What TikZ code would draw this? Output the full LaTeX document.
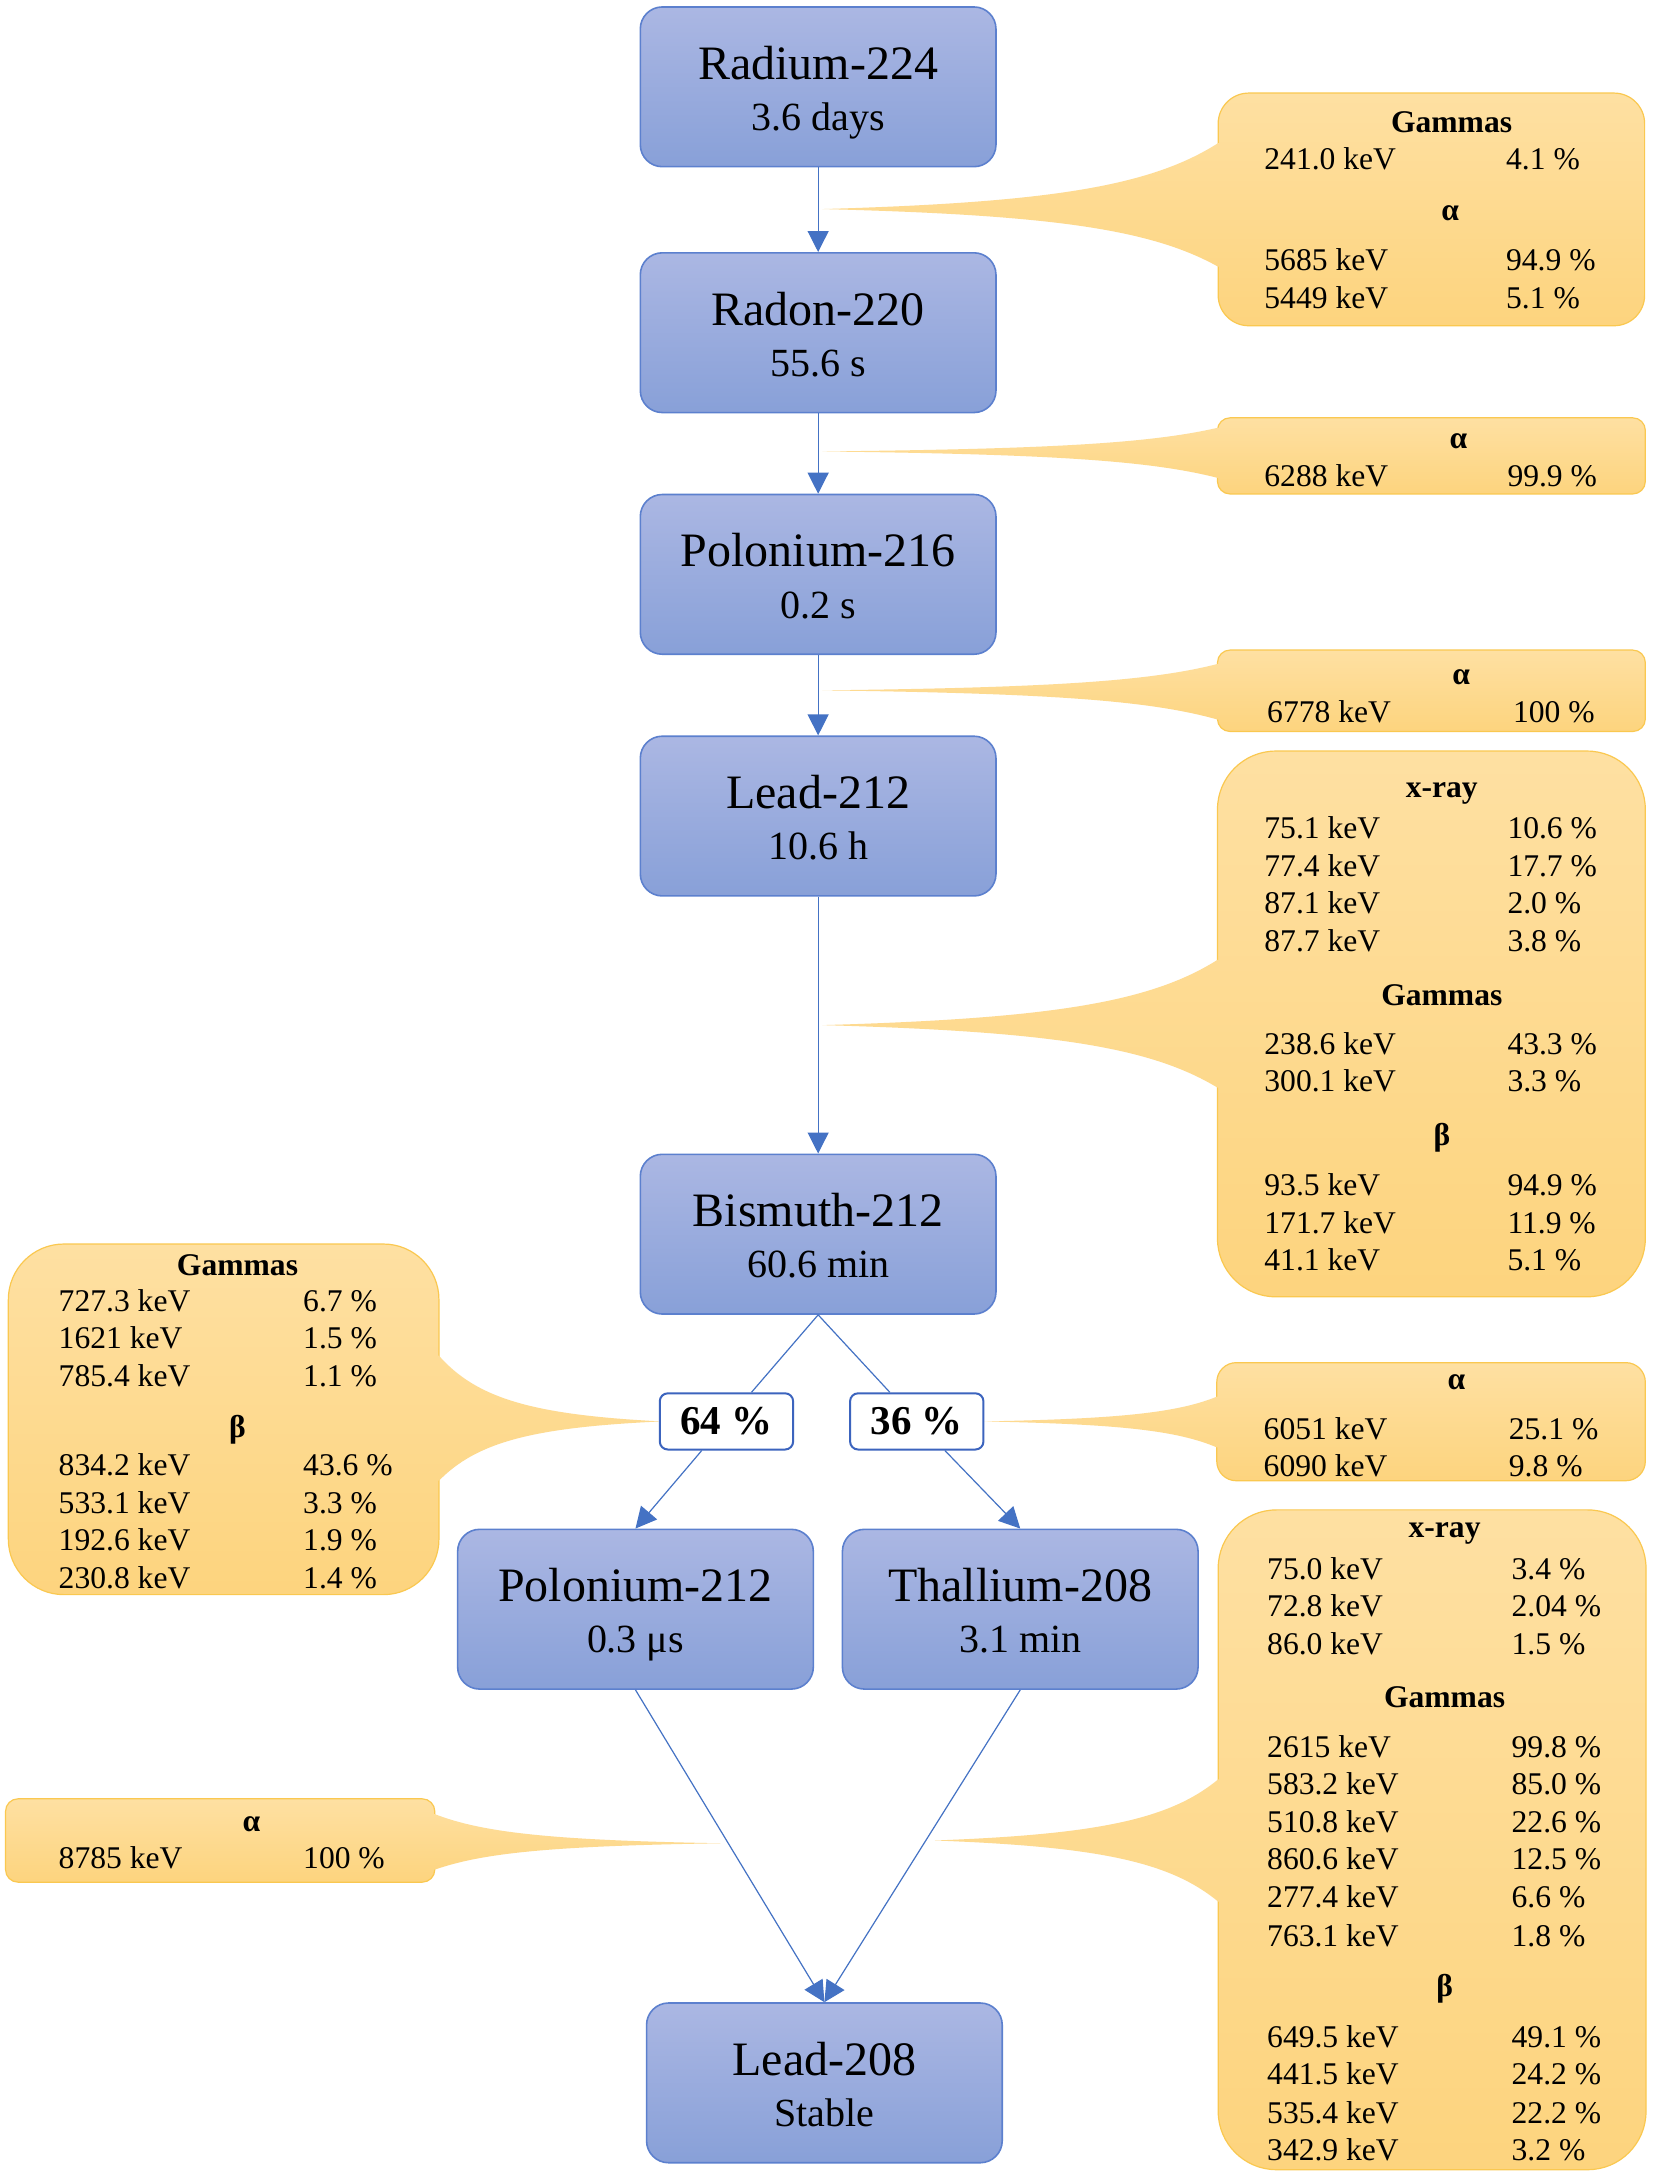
\documentclass[tikz,border=0pt]{standalone}
\usepackage{fontspec}
\setmainfont{Liberation Serif}
\usetikzlibrary{arrows.meta}
\definecolor{bluetop}{RGB}{171,183,227}
\definecolor{bluebot}{RGB}{136,160,216}
\definecolor{boxedge}{RGB}{92,128,206}
\definecolor{linkblue}{RGB}{68,114,196}
\definecolor{pctedge}{RGB}{60,100,190}
\definecolor{caltop}{RGB}{254,224,162}
\definecolor{calbot}{RGB}{253,212,126}
\definecolor{caledge}{RGB}{250,200,80}
\def\unitpx{0.6948pt}
\tikzset{
  nucbox/.style={rectangle, draw=boxedge, line width=0.8pt, top color=bluetop, bottom color=bluebot,
    rounded corners=11pt, minimum width=177.9pt, minimum height=79.9pt, inner sep=0pt},
  nuctitle/.style={inner sep=0pt, font=\fontsize{24}{28}\selectfont},
  nucsub/.style={inner sep=0pt, font=\fontsize{20}{24}\selectfont},
  calnode/.style={rectangle, draw=caledge, line width=0.6pt, top color=caltop, bottom color=calbot, inner sep=0pt},
  dat/.style={anchor=base west, inner sep=0pt, font=\fontsize{15.8}{19}\selectfont},
  hd/.style={inner sep=0pt, font=\fontsize{15.8}{19}\selectfont\bfseries},
  pct/.style={rectangle, draw=pctedge, line width=1pt, fill=white, rounded corners=4pt,
    minimum width=66.7pt, minimum height=28.1pt, inner sep=0pt, font=\fontsize{20.5}{24}\selectfont\bfseries},
  link/.style={draw=linkblue, line width=0.6pt},
  arr/.style={link, -{Triangle[length=10.5pt,width=10.5pt]}},
}
% name, xcenter, ytop, title, subtitle
\newcommand\nuclide[5]{%
  \node[nucbox] (#1) at (#2,{#3+57.5}) {};
  \node[nuctitle, anchor=base] (#1t) at (#2,{#3+52}) {#4};
  \node[nucsub, anchor=base] (#1s) at (#2,{#3+89}) {#5};}
% name, x1, y1, x2, y2, radius
\newcommand\calbox[6]{%
  \node[calnode, minimum width={(#4-#2)*\unitpx}, minimum height={(#5-#3)*\unitpx},
    rounded corners={#6*\unitpx}] (#1) at ({(#2+#4)/2},{(#3+#5)/2}) {};}
% tipx, tipy, edgex, basetop, basebottom, insidex, boxtop, boxbottom
\newcommand\calwedge[8]{%
  \begin{scope}
    \clip (#1,#2) .. controls ({#1+0.58*(#3-#1)},{#2-0.1*(#2-#4)}) and ({#3-0.17*(#3-#1)},{#2-0.35*(#2-#4)}) .. (#3,#4)
      -- (#6,#4) -- (#6,#5) -- (#3,#5)
      .. controls ({#3-0.17*(#3-#1)},{#2+0.35*(#5-#2)}) and ({#1+0.58*(#3-#1)},{#2+0.1*(#5-#2)}) .. (#1,#2) -- cycle;
    \shade[top color=caltop, bottom color=calbot] (#1,#7) rectangle (#6,#8);
  \end{scope}}
\newcommand\datrow[6]{%
  \node[dat] (#1l) at (#2,{#4+7}) {#5};
  \node[dat] (#1r) at (#3,{#4+7}) {#6};}
\newcommand\hdr[4]{\node[hd] (#1) at (#2,#3) {#4};}

\begin{document}
\begin{tikzpicture}[x=0.6948pt, y=-0.6948pt]
\useasboundingbox (0,0) rectangle (1191,1568);
\fill[white] (0,0) rectangle (1191,1568);

% ---------- callouts ----------
\calbox{c1}{877}{67}{1184}{234.5}{22}
\calwedge{592}{150.5}{877}{103}{192}{884}{67}{234.5}
\hdr{c1h1}{1045}{88}{Gammas}
\datrow{c1a}{910}{1084}{114.7}{241.0 keV}{4.1 \%}
\hdr{c1h2}{1044}{153.5}{α}
\datrow{c1b}{910}{1084}{188}{5685 keV}{94.9 \%}
\datrow{c1c}{910}{1084}{215}{5449 keV}{5.1 \%}

\calbox{c2}{876.5}{300.8}{1184.5}{355.6}{9}
\calwedge{592}{325}{876.5}{308}{344}{883}{300.8}{355.6}
\hdr{c2h1}{1050}{317.5}{α}
\datrow{c2a}{910}{1085}{343.5}{6288 keV}{99.9 \%}

\calbox{c3}{876.5}{468}{1184.5}{526.6}{9}
\calwedge{592}{497}{876.5}{478}{518}{883}{468}{526.6}
\hdr{c3h1}{1052}{487.5}{α}
\datrow{c3a}{912}{1089}{513}{6778 keV}{100 \%}

\calbox{c4}{876.5}{540.7}{1184.5}{933.6}{42}
\calwedge{592}{738}{876.5}{691}{783}{883}{540.7}{933.6}
\hdr{c4h1}{1038}{571}{x-ray}
\datrow{c4a}{910}{1085}{596.6}{75.1 keV}{10.6 \%}
\datrow{c4b}{910}{1085}{624}{77.4 keV}{17.7 \%}
\datrow{c4c}{910}{1085}{651}{87.1 keV}{2.0 \%}
\datrow{c4d}{910}{1085}{678}{87.7 keV}{3.8 \%}
\hdr{c4h2}{1038}{716.5}{Gammas}
\datrow{c4e}{910}{1085}{752}{238.6 keV}{43.3 \%}
\datrow{c4f}{910}{1085}{779}{300.1 keV}{3.3 \%}
\hdr{c4h3}{1038}{819}{β}
\datrow{c4g}{910}{1085}{853.7}{93.5 keV}{94.9 \%}
\datrow{c4h}{910}{1085}{881}{171.7 keV}{11.9 \%}
\datrow{c4i}{910}{1085}{907.6}{41.1 keV}{5.1 \%}

\calbox{c5}{6}{895.6}{316}{1148}{40}
\calwedge{476}{1023.3}{316}{976}{1066}{309}{895.6}{1148}
\hdr{c5h1}{171}{910.6}{Gammas}
\datrow{c5a}{42}{218}{937}{727.3 keV}{6.7 \%}
\datrow{c5b}{42}{218}{964}{1621 keV}{1.5 \%}
\datrow{c5c}{42}{218}{991}{785.4 keV}{1.1 \%}
\hdr{c5h2}{171}{1029.5}{β}
\datrow{c5d}{42}{218}{1055.5}{834.2 keV}{43.6 \%}
\datrow{c5e}{42}{218}{1082.5}{533.1 keV}{3.3 \%}
\datrow{c5f}{42}{218}{1109.5}{192.6 keV}{1.9 \%}
\datrow{c5g}{42}{218}{1136.5}{230.8 keV}{1.4 \%}

\calbox{c6}{876}{981}{1184.5}{1066}{14}
\calwedge{708}{1023.3}{876}{1005.5}{1042}{883}{981}{1066}
\hdr{c6h1}{1048.5}{994.8}{α}
\datrow{c6a}{909.5}{1086}{1029.5}{6051 keV}{25.1 \%}
\datrow{c6b}{909.5}{1086}{1056}{6090 keV}{9.8 \%}

\calbox{c7}{877}{1087}{1185}{1562}{42}
\calwedge{673}{1325}{877}{1281}{1369}{884}{1087}{1562}
\hdr{c7h1}{1040}{1104}{x-ray}
\datrow{c7a}{912}{1088}{1130}{75.0 keV}{3.4 \%}
\datrow{c7b}{912}{1088}{1157}{72.8 keV}{2.04 \%}
\datrow{c7c}{912}{1088}{1184}{86.0 keV}{1.5 \%}
\hdr{c7h2}{1040}{1222}{Gammas}
\datrow{c7d}{912}{1088}{1258}{2615 keV}{99.8 \%}
\datrow{c7e}{912}{1088}{1285}{583.2 keV}{85.0 \%}
\datrow{c7f}{912}{1088}{1312}{510.8 keV}{22.6 \%}
\datrow{c7g}{912}{1088}{1339}{860.6 keV}{12.5 \%}
\datrow{c7h}{912}{1088}{1366}{277.4 keV}{6.6 \%}
\datrow{c7i}{912}{1088}{1394}{763.1 keV}{1.8 \%}
\hdr{c7h3}{1040}{1431.5}{β}
\datrow{c7j}{912}{1088}{1467}{649.5 keV}{49.1 \%}
\datrow{c7k}{912}{1088}{1494}{441.5 keV}{24.2 \%}
\datrow{c7l}{912}{1088}{1521.5}{535.4 keV}{22.2 \%}
\datrow{c7m}{912}{1088}{1548.5}{342.9 keV}{3.2 \%}

\calbox{c8}{4}{1295}{313}{1355}{9}
\calwedge{519}{1327}{313}{1306}{1346}{306}{1295}{1355}
\hdr{c8h1}{181}{1313}{α}
\datrow{c8a}{42}{218}{1338.5}{8785 keV}{100 \%}

% ---------- nuclides ----------
\nuclide{ra}{589}{5}{Radium-224}{3.6 days}
\nuclide{rn}{589}{182}{Radon-220}{55.6 s}
\nuclide{poa}{589}{356}{Polonium-216}{0.2 s}
\nuclide{pba}{589}{530}{Lead-212}{10.6 h}
\nuclide{bi}{589}{831}{Bismuth-212}{60.6 min}
\nuclide{pob}{457.5}{1101}{Polonium-212}{0.3 μs}
\nuclide{tl}{734.5}{1101}{Thallium-208}{3.1 min}
\nuclide{pbb}{593.5}{1442}{Lead-208}{Stable}

% ---------- branching ----------
\node[pct] (p64) at (523,1023.3) {64 \%};
\node[pct] (p36) at (660,1023.3) {36 \%};

% ---------- connectors ----------
\draw[arr] (ra.south) -- (rn.north);
\draw[arr] (rn.south) -- (poa.north);
\draw[arr] (poa.south) -- (pba.north);
\draw[arr] (pba.south) -- (bi.north);
\draw[link] (bi.south) -- (p64);
\draw[link] (bi.south) -- (p36);
\draw[arr] (p64) -- (pob.north);
\draw[arr] (p36) -- (tl.north);
\draw[arr] (pob.south) -- (pbb.north);
\draw[arr] (tl.south) -- (pbb.north);
\end{tikzpicture}
\end{document}
